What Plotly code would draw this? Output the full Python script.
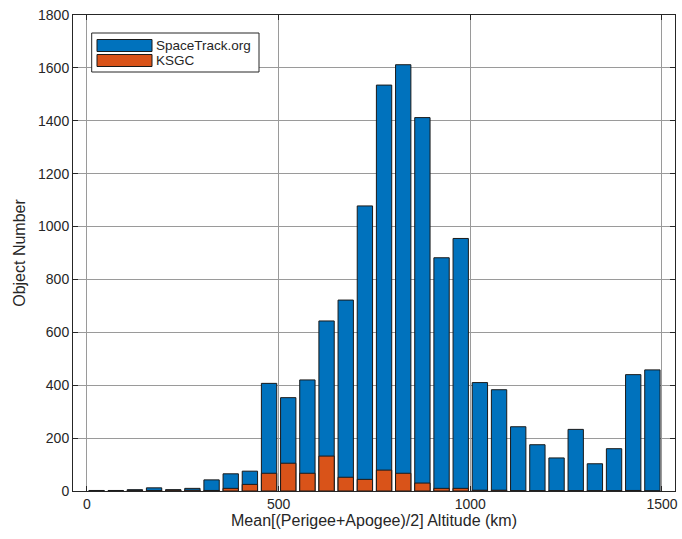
import plotly.graph_objects as go

altitude_km = [25, 75, 125, 175, 225, 275, 325, 375, 425, 475,
               525, 575, 625, 675, 725, 775, 825, 875, 925, 975,
               1025, 1075, 1125, 1175, 1225, 1275, 1325, 1375, 1425, 1475]
spacetrack = [2, 2, 5, 12, 5, 10, 42, 65, 75, 407,
              353, 420, 643, 722, 1078, 1535, 1612, 1412, 882, 955,
              410, 383, 243, 175, 125, 233, 103, 160, 440, 458]
ksgc = [0, 0, 1, 2, 3, 3, 2, 10, 25, 67,
        105, 67, 132, 52, 44, 79, 67, 30, 10, 10,
        3, 3, 1, 1, 1, 1, 1, 1, 2, 0]
x_ticks = [0, 500, 1000, 1500]
y_ticks = [0, 200, 400, 600, 800, 1000, 1200, 1400, 1600, 1800]

BLUE = "#0072BD"
ORANGE = "#D95319"
FONT = "Liberation Sans"

L, R, T, B = 73, 675, 15, 491  # plot area in page pixels
PW, PH = R - L, B - T

fig = go.Figure()
fig.add_trace(go.Bar(x=altitude_km, y=spacetrack, width=40, name="SpaceTrack.org",
                     marker=dict(color=BLUE, line=dict(color="#1a1a1a", width=1))))
fig.add_trace(go.Bar(x=altitude_km, y=ksgc, width=40, name="KSGC",
                     marker=dict(color=ORANGE, line=dict(color="#1a1a1a", width=1))))

axis_common = dict(showline=True, linecolor="#262626", linewidth=1, mirror="ticks",
                   ticks="inside", ticklen=5, tickcolor="#262626",
                   showgrid=True, gridcolor="#9a9a9a", gridwidth=1,
                   zeroline=False, automargin=False,
                   tickfont=dict(family=FONT, size=14, color="#262626"))

fig.update_layout(
    width=682, height=539,
    margin=dict(l=L, r=682 - R, t=T, b=539 - B),
    plot_bgcolor="white", paper_bgcolor="white",
    barmode="overlay", showlegend=False,
    font=dict(family=FONT, color="#262626"),
    xaxis=dict(range=[-36.5, 1534], tickvals=x_ticks,
               title=dict(text="Mean[(Perigee+Apogee)/2] Altitude (km)",
                          font=dict(family=FONT, size=16, color="#262626"), standoff=2),
               **axis_common),
    yaxis=dict(range=[0, 1800], tickvals=y_ticks,
               title=dict(text="Object Number",
                          font=dict(family=FONT, size=16, color="#262626"), standoff=8),
               **axis_common),
)

# Custom legend box (MATLAB-style long swatches)
def px_x(p):
    return (p - L) / PW

def px_y(p):
    return (B - p) / PH

fig.add_shape(type="rect", xref="paper", yref="paper",
              x0=px_x(91.7), x1=px_x(259), y0=px_y(72), y1=px_y(33),
              line=dict(color="#262626", width=1), fillcolor="white", layer="above")
entries = [("SpaceTrack.org", BLUE, 45.5), ("KSGC", ORANGE, 60.5)]
for label, color, ypix in entries:
    fig.add_shape(type="rect", xref="paper", yref="paper",
                  x0=px_x(97), x1=px_x(152), y0=px_y(ypix + 6), y1=px_y(ypix - 6),
                  line=dict(color="#1a1a1a", width=1), fillcolor=color, layer="above")
    fig.add_annotation(xref="paper", yref="paper", x=px_x(155), y=px_y(ypix),
                       text=label, showarrow=False,
                       xanchor="left", yanchor="middle", borderpad=0,
                       font=dict(family=FONT, size=13.5, color="#262626"))

fig.write_html("out.html",
               config={"displayModeBar": False},
               post_script="document.body.style.margin='0px';document.body.style.overflow='hidden';")
